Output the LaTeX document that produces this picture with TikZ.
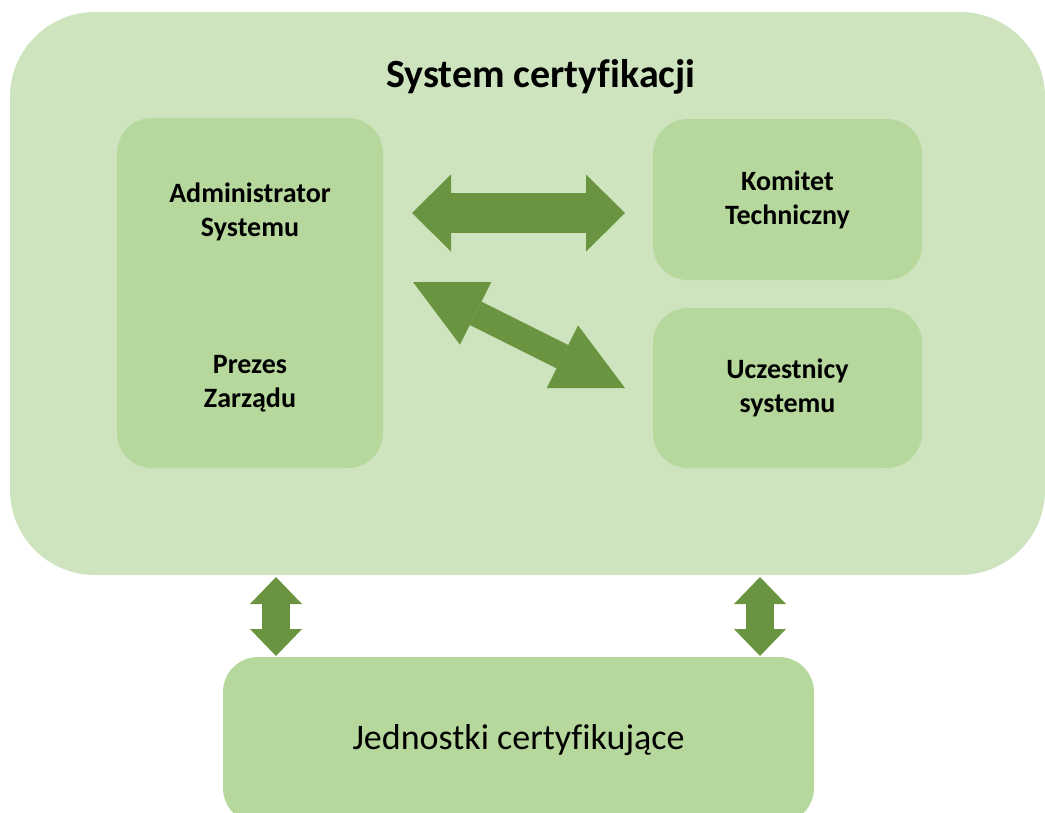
\documentclass[tikz,border=0pt]{standalone}
\usepackage{fontspec}
\setmainfont{Carlito}[Ligatures=NoCommon]
\usetikzlibrary{positioning,
        arrows.meta}
\definecolor{outergreen}{RGB}{205,228,190}
\definecolor{innergreen}{RGB}{182,216,156}
\definecolor{arrowgreen}{RGB}{106,148,64}

\begin{document}
\begin{tikzpicture}[x=1pt,y=-1pt,
        box/.style={rounded corners=35pt,fill=innergreen,inner sep=0pt,align=center,
            font=\bfseries\fontsize{28}{34}\selectfont},
        boxtext/.style={align=center,font=\bfseries\fontsize{28}{34}\selectfont},
        bigarrow/.style n args={3}{draw=arrowgreen,line width=#1pt,
            {Triangle[length=#2pt,width=#3pt,line width=0pt]}-{Triangle[length=#2pt,width=#3pt,line width=0pt]}}]
            \useasboundingbox (0,0) rectangle (1045,812);
            \node [rounded corners=85pt,fill=outergreen,minimum width=1035pt,minimum height=563pt] (sys) at (527.5,293.5) {};
            \node [anchor=base,font=\bfseries\fontsize{40}{48}\selectfont] (title) at (541,87) {System certyfikacji};
            \node [box,minimum width=266pt,minimum height=350pt] (adm) at (250,293) {};
            \node [boxtext] (admin) at (250,212) {Administrator\\Systemu};
            \node [boxtext] (prezes) at (250,384) {Prezes\\Zarządu};
            \node [box,minimum width=269pt,minimum height=161pt] (kom) at (787.5,199.5) {Komitet\\Techniczny};
            \node [box,minimum width=269pt,minimum height=160pt] (ucz) at (787.5,388) {Uczestnicy\\systemu};
            \node [box,font=\fontsize{36}{43}\selectfont,minimum width=591pt,minimum height=166pt] (jed) at (518.5,740) {Jednostki certyfikujące};

            \coordinate (h1) at (412,213);
            \coordinate (h2) at (625,213);
            \coordinate (d1) at (413,282);
            \coordinate (d2) at (625,388);
            \coordinate (v1) at (276,577);
            \coordinate (v2) at (276,656);
            \coordinate (v3) at (760,577);
            \coordinate (v4) at (760,656);

            \draw [bigarrow={40}{39}{77}] (h1) -- (h2);
            \draw [bigarrow={26}{70}{70}] (d1) -- (d2);
            \draw [bigarrow={28}{27}{52}] (v1) -- (v2);
            \draw [bigarrow={28}{27}{52}] (v3) -- (v4);
        \end{tikzpicture}
\end{document}
